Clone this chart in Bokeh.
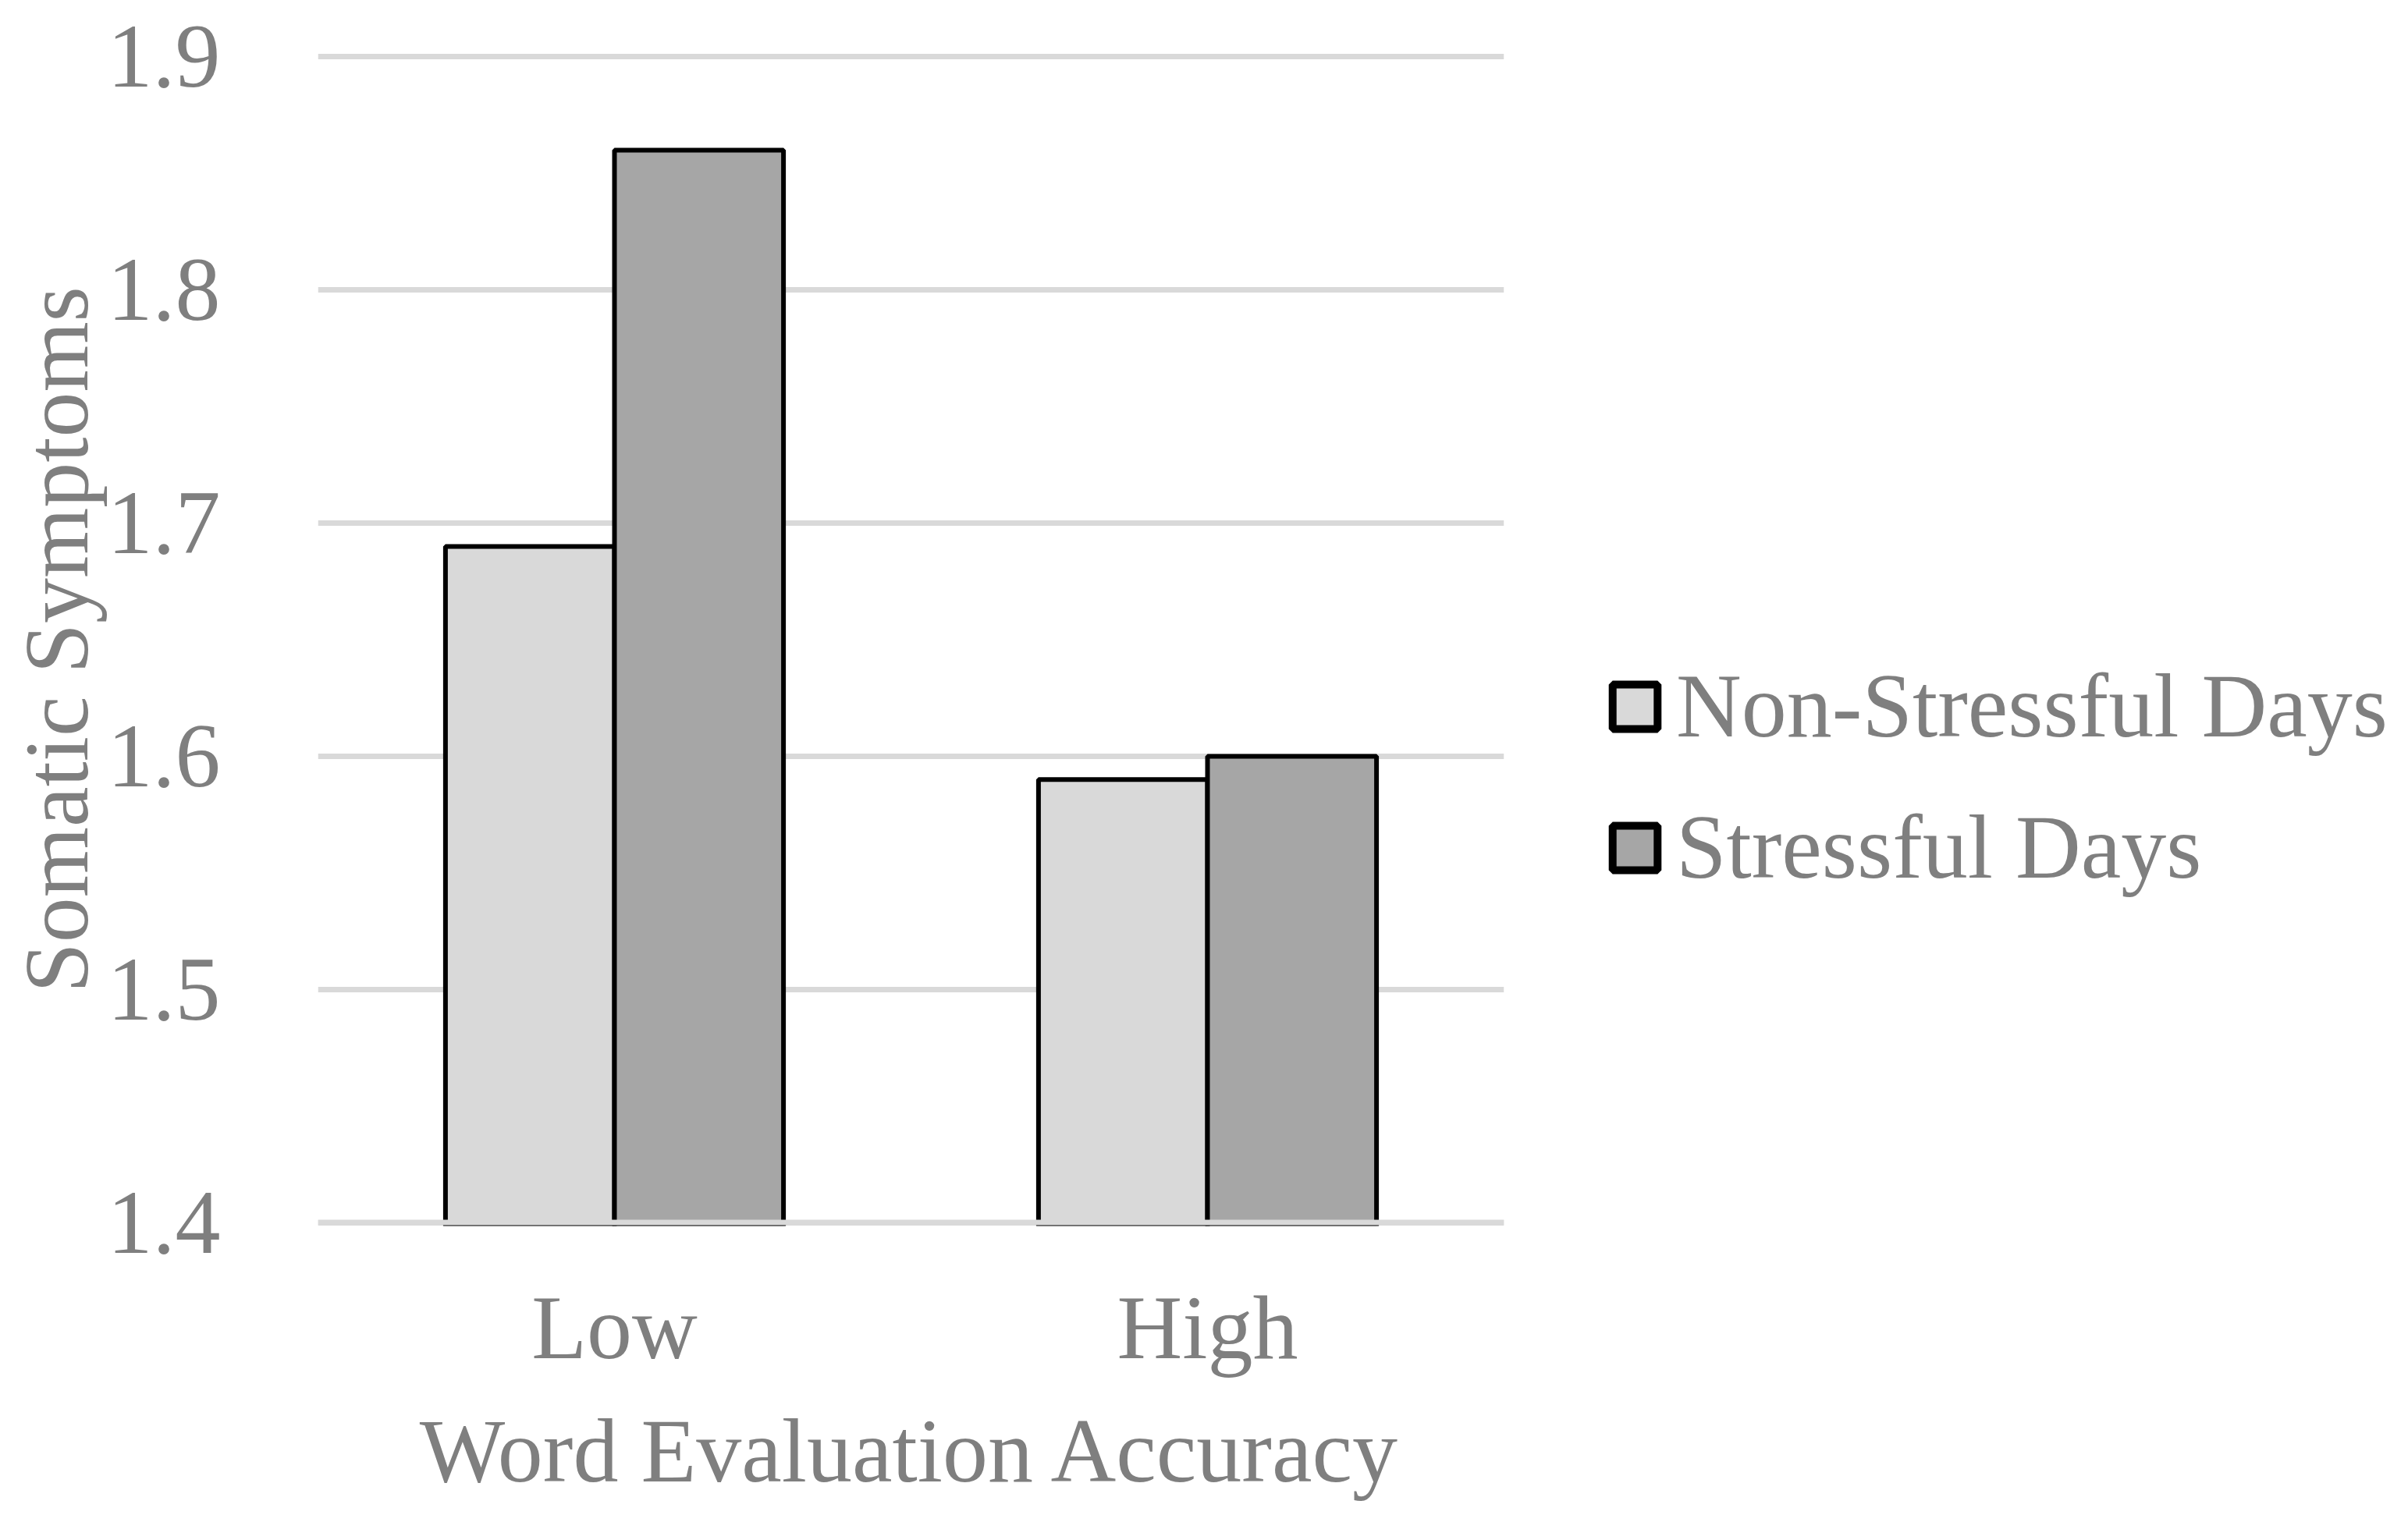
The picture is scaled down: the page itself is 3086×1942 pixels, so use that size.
from bokeh.plotting import figure
from bokeh.models import Range1d, FactorRange, Legend, LegendItem, FixedTicker, ColumnDataSource, Span
from bokeh.transform import dodge
from bokeh.embed import file_html
from bokeh.resources import INLINE

categories = ["Low", "High"]
non_stressful = [1.69, 1.59]
stressful = [1.86, 1.60]
series_names = ["Non-Stressful Days", "Stressful Days"]
y_ticks = [1.4, 1.5, 1.6, 1.7, 1.8, 1.9]
y_min, y_max = 1.4, 1.9
x_title = "Word Evaluation Accuracy"
y_title = "Somatic Symptoms"

FONT = "Liberation Serif"
TEXT = "#7f7f7f"
FS = "116px"
GRID = "#d9d9d9"

# small padding so that the end grid lines are drawn by the grid
pad = 0.0015
p = figure(width=3077, height=1926,
           frame_width=1520, frame_height=1503,
           x_range=FactorRange(*categories),
           y_range=Range1d(y_min - pad, y_max + pad),
           output_backend="svg", toolbar_location=None,
           min_border_left=407, min_border_right=1150,
           min_border_top=68, min_border_bottom=355)

p.outline_line_color = None
p.background_fill_color = "white"
p.border_fill_color = "white"

source = ColumnDataSource(dict(cat=categories, ns=non_stressful, s=stressful))
bw = 0.285
fills = ["#d9d9d9", "#a6a6a6"]
r1 = p.vbar(x=dodge('cat', -bw / 2, range=p.x_range), top='ns', bottom=y_min - pad, width=bw,
            source=source, fill_color=fills[0], line_color="black", line_width=6)
r2 = p.vbar(x=dodge('cat', bw / 2, range=p.x_range), top='s', bottom=y_min - pad, width=bw,
            source=source, fill_color=fills[1], line_color="black", line_width=6)
# legend-only renderers (thicker outline in the legend keys)
l1 = p.vbar(x=dodge('cat', -bw / 2, range=p.x_range), top='ns', bottom=y_min, width=bw,
            source=source, fill_color=fills[0], line_color="black", line_width=10, visible=False)
l2 = p.vbar(x=dodge('cat', bw / 2, range=p.x_range), top='s', bottom=y_min, width=bw,
            source=source, fill_color=fills[1], line_color="black", line_width=10, visible=False)

p.xgrid.grid_line_color = None
p.ygrid.grid_line_color = GRID
p.ygrid.grid_line_width = 7
p.yaxis.ticker = FixedTicker(ticks=y_ticks)

# baseline grid line drawn over the bars' bottoms
p.add_layout(Span(location=y_min, dimension="width", line_color=GRID, line_width=7, level="overlay"))

for ax in (p.xaxis[0], p.yaxis[0]):
    ax.axis_line_color = None
    ax.major_tick_line_color = None
    ax.minor_tick_line_color = None
    ax.major_tick_out = 0
    ax.major_tick_in = 0
    ax.minor_tick_out = 0
    ax.major_label_text_font = FONT
    ax.major_label_text_font_size = FS
    ax.major_label_text_color = TEXT
    ax.major_label_text_line_height = 1.0
    ax.axis_label_text_font = FONT
    ax.axis_label_text_font_size = FS
    ax.axis_label_text_color = TEXT
    ax.axis_label_text_font_style = "normal"
    ax.axis_label_text_line_height = 1.0

p.xaxis.axis_label = x_title
p.yaxis.axis_label = y_title
p.xaxis.major_label_standoff = 66
p.xaxis.axis_label_standoff = 27
p.yaxis.major_label_standoff = 125
p.yaxis.axis_label_standoff = -2

legend = Legend(items=[LegendItem(label=series_names[0], renderers=[l1]),
                       LegendItem(label=series_names[1], renderers=[l2])],
                location=(132, 418), orientation="vertical",
                glyph_width=72, glyph_height=71, label_standoff=17,
                spacing=48, padding=10, margin=0,
                label_text_font=FONT, label_text_font_size=FS,
                label_text_color=TEXT,
                border_line_color=None, background_fill_alpha=0)
p.add_layout(legend, "right")

open("out.html", "w").write(file_html(p, INLINE))
